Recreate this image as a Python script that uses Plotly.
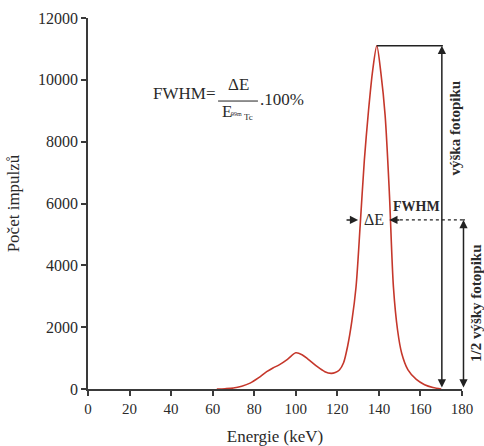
import plotly.graph_objects as go

# Spectrum data (energy in keV, counts)
energy = [62, 66, 70, 74, 78, 82, 86, 89, 92, 96, 100, 103, 106, 110, 114, 117, 119, 121, 123, 125,
          127, 129, 131, 133, 135, 137, 139, 141, 143, 145, 147, 149, 151, 154, 158, 162, 166, 170]
counts = [0, 10, 30, 90, 190, 360, 560, 680, 780, 960, 1170, 1110, 960, 740, 560, 505, 530, 615, 850, 1400,
          2200, 3300, 5300, 7400, 9000, 10300, 11100, 10200, 8850, 6400, 3300, 1900, 1150, 620, 310, 140, 50, 0]

peak_energy = 139
peak_counts = 11100
half_counts = 5470

x_ticks = [0, 20, 40, 60, 80, 100, 120, 140, 160, 180]
y_ticks = [0, 2000, 4000, 6000, 8000, 10000, 12000]

FONT = "Liberation Serif"
AX = "#3a3a3a"
TXT = "#2a2a2a"

fig = go.Figure()
fig.add_trace(go.Scatter(x=energy, y=counts, mode="lines", line=dict(color="#c5372b", width=1.6, shape="spline", smoothing=0.8),
                         cliponaxis=False, hoverinfo="skip", showlegend=False))

shapes = []
# horizontal line from peak to arrow
shapes.append(dict(type="line", xref="x", yref="y", x0=peak_energy, x1=170.8, y0=peak_counts, y1=peak_counts,
                   line=dict(color="#222", width=1.5)))
# dotted line at half max
shapes.append(dict(type="line", xref="x", yref="y", x0=150.1, x1=180, y0=half_counts, y1=half_counts,
                   line=dict(color="#222", width=1.2, dash="dot")))
shapes.append(dict(type="line", xref="paper", yref="y", x0=1.0, x1=1.01, y0=half_counts, y1=half_counts,
                   line=dict(color="#222", width=1.2, dash="dot")))
# fraction bar
shapes.append(dict(type="line", xref="x", yref="y", x0=62.6, x1=81.8, y0=9314, y1=9314,
                   line=dict(color="#222", width=1)))

ann = []
def arrow(x, y, ax, ay, both=False, xref="x"):
    d = dict(x=x, y=y, ay=ay, xref=xref, yref="y", ayref="y", text="",
             showarrow=True, arrowhead=2, arrowsize=1.1, arrowwidth=1.5, arrowcolor="#222",
             arrowside="end+start" if both else "end", startarrowhead=2, startarrowsize=1.1)
    if xref == "x":
        d.update(ax=ax, axref="x")
    else:
        d.update(ax=0, axref="pixel")
    ann.append(d)

arrow(170.3, peak_counts, 170.3, 0, both=True)
arrow(1.004, half_counts, None, 0, both=True, xref="paper")
arrow(130.0, half_counts, 123.7, half_counts)
arrow(145.0, half_counts, 150.6, half_counts)

def text(x, y, t, size, bold=False, angle=0, xanchor="center", xref="x"):
    ann.append(dict(x=x, y=y, xref=xref, yref="y", text=("<b>%s</b>" % t) if bold else t, showarrow=False,
                    font=dict(family=FONT, size=size, color=TXT), textangle=angle, xanchor=xanchor, yanchor="middle"))

text(137.5, half_counts, "ΔE", 16)
text(158.3, 5890, "FWHM", 14, bold=True)
text(176.6, 8457, "výška fotopiku", 15, bold=True, angle=-90)
text(1.036, 2797, "1/2 výšky fotopiku", 15, bold=True, angle=-90, xref="paper")

# formula
text(62.1, 9573, "FWHM=", 17, xanchor="right")
text(72.2, 9864, "ΔE", 17)
text(67.1, 8990, "E", 17)
text(71.5, 8900, "99m", 6)
text(77.2, 8790, "Tc", 9)
text(81.8, 9379, ".100%", 17, xanchor="left")

fig.update_layout(
    width=484, height=446,
    margin=dict(l=88, r=22, t=18, b=57),
    paper_bgcolor="white", plot_bgcolor="white",
    font=dict(family=FONT, size=15, color=TXT),
    shapes=shapes, annotations=ann,
    xaxis=dict(range=[0, 180], tickvals=x_ticks, ticktext=[str(v) for v in x_ticks], automargin=False,
               showgrid=False, zeroline=False, showline=True, linecolor=AX, linewidth=1.5,
               ticks="outside", ticklen=5, tickwidth=1.5, tickcolor=AX,
               tickfont=dict(family=FONT, size=15, color=TXT),
               title=dict(text="Energie (keV)", font=dict(family=FONT, size=17, color=TXT), standoff=14)),
    yaxis=dict(range=[0, 12000], tickvals=y_ticks, ticktext=[str(v) for v in y_ticks], automargin=False,
               showgrid=False, zeroline=False, showline=True, linecolor=AX, linewidth=1.5,
               ticks="outside", ticklen=5, tickwidth=1.5, tickcolor=AX,
               tickfont=dict(family=FONT, size=16, color=TXT),
               title=dict(text="Počet impulzů", font=dict(family=FONT, size=17, color=TXT), standoff=14)),
)

fig.write_html("out.html", config={"displayModeBar": False},
               post_script="document.body.style.margin='0';document.body.style.padding='0';")
